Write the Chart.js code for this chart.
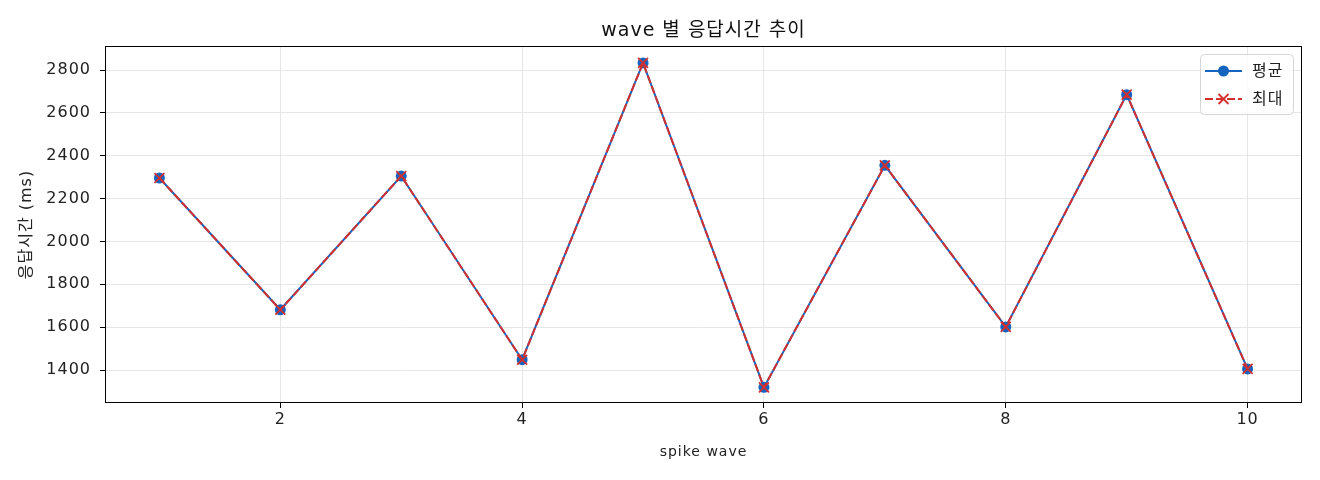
<!DOCTYPE html>
<html>
<head>
<meta charset="utf-8">
<script src="https://cdn.jsdelivr.net/npm/chart.js@4"></script>
<style>
  html, body { margin: 0; padding: 0; background: #fff; }
  #wrap { width: 1320px; height: 480px; }
</style>
</head>
<body>
<div id="wrap"><canvas id="chart" width="1320" height="480"></canvas></div>
<script>
// values
const waves = [1, 2, 3, 4, 5, 6, 7, 8, 9, 10];
const avgMs = [2296, 1681, 2305, 1448, 2833, 1319, 2355, 1601, 2685, 1405];
const maxMs = [2296, 1681, 2305, 1448, 2833, 1319, 2355, 1601, 2685, 1405];
const xTicks = [2, 4, 6, 8, 10];
const yTicks = [1400, 1600, 1800, 2000, 2200, 2400, 2600, 2800];

const FONT = "'DejaVu Sans', 'Noto Sans CJK KR', sans-serif";
const BLUE = '#1565c0';
const RED = '#d32f2f';
const SPACING = '1px';

// wider text like the reference font
const spacingPlugin = {
  id: 'spacing',
  beforeLayout(chart) { chart.ctx.letterSpacing = SPACING; },
  beforeDraw(chart) { chart.ctx.letterSpacing = SPACING; }
};

// box around the plot + legend inside top-right
const framePlugin = {
  id: 'frame',
  afterDraw(chart) {
    const ctx = chart.ctx;
    const a = chart.chartArea;
    ctx.save();
    ctx.strokeStyle = '#000';
    ctx.lineWidth = 1;
    ctx.strokeRect(Math.round(a.left) + 0.5, Math.round(a.top) + 0.5,
      Math.round(a.right - a.left) - 1, Math.round(a.bottom - a.top) - 1);

    // legend
    const bx = 1200, by = 54, bw = 93, bh = 60;
    ctx.beginPath();
    ctx.roundRect(bx + 0.5, by + 0.5, bw, bh, 4);
    ctx.fillStyle = 'rgba(255,255,255,0.8)';
    ctx.fill();
    ctx.strokeStyle = '#d6d6d6';
    ctx.stroke();

    chart.data.datasets.forEach(function (ds, i) {
      const y = 71 + i * 28;
      ctx.save();
      ctx.strokeStyle = ds.borderColor;
      ctx.lineWidth = 2;
      ctx.setLineDash(ds.borderDash || []);
      ctx.beginPath();
      ctx.moveTo(1205, y);
      ctx.lineTo(1242, y);
      ctx.stroke();
      ctx.restore();
      if (ds.pointStyle === 'circle') {
        ctx.beginPath();
        ctx.arc(1223.5, y, 5.5, 0, Math.PI * 2);
        ctx.fillStyle = ds.pointBackgroundColor;
        ctx.fill();
      } else {
        ctx.strokeStyle = ds.pointBorderColor;
        ctx.lineWidth = 1.8;
        ctx.beginPath();
        ctx.moveTo(1218.5, y - 5); ctx.lineTo(1228.5, y + 5);
        ctx.moveTo(1228.5, y - 5); ctx.lineTo(1218.5, y + 5);
        ctx.stroke();
      }
      ctx.fillStyle = '#222';
      ctx.font = '16px ' + FONT;
      ctx.textBaseline = 'middle';
      ctx.textAlign = 'left';
      ctx.fillText(ds.label, 1252, y + 1);
    });
    ctx.restore();
  }
};

new Chart(document.getElementById('chart'), {
  type: 'line',
  data: {
    labels: waves,
    datasets: [
      {
        label: '평균',
        data: waves.map((w, i) => ({ x: w, y: avgMs[i] })),
        borderColor: BLUE,
        backgroundColor: BLUE,
        borderWidth: 2,
        pointStyle: 'circle',
        pointRadius: 5.5,
        pointBackgroundColor: BLUE,
        pointBorderColor: BLUE,
        pointBorderWidth: 0,
        tension: 0,
        order: 1
      },
      {
        label: '최대',
        data: waves.map((w, i) => ({ x: w, y: maxMs[i] })),
        borderColor: RED,
        backgroundColor: RED,
        borderWidth: 2,
        borderDash: [8, 3],
        pointStyle: 'crossRot',
        pointRadius: 7,
        pointBorderColor: RED,
        pointBackgroundColor: RED,
        pointBorderWidth: 1.8,
        tension: 0,
        order: 0
      }
    ]
  },
  options: {
    responsive: false,
    animation: false,
    devicePixelRatio: 1,
    layout: { padding: { left: 0, right: 18, top: 0, bottom: 0 } },
    plugins: {
      legend: { display: false },
      tooltip: { enabled: false },
      title: { display: false }
    },
    scales: {
      // top axis only carries the chart title, centred over the plot
      top: {
        type: 'linear',
        position: 'top',
        min: 0.55,
        max: 10.45,
        afterFit(scale) { scale.height = 46; },
        grid: { display: false },
        border: { display: false },
        ticks: { display: false },
        title: {
          display: true,
          text: 'wave 별 응답시간 추이',
          color: '#111',
          font: { family: FONT, size: 19 },
          padding: { top: 20, bottom: 0 }
        }
      },
      x: {
        type: 'linear',
        min: 0.55,
        max: 10.45,
        afterBuildTicks(scale) { scale.ticks = xTicks.map(v => ({ value: v })); },
        afterFit(scale) { scale.height = 77; },
        grid: { color: '#e6e6e6', tickColor: '#000', tickLength: 5, drawTicks: true },
        border: { display: false },
        ticks: {
          color: '#222', font: { family: FONT, size: 16 }, padding: 2, maxRotation: 0,
          callback: v => String(v)
        },
        title: {
          display: true,
          text: 'spike wave',
          color: '#222',
          font: { family: FONT, size: 14 },
          padding: { top: 0, bottom: 19 }
        }
      },
      y: {
        type: 'linear',
        min: 1246,
        max: 2912,
        afterBuildTicks(scale) { scale.ticks = yTicks.map(v => ({ value: v })); },
        afterFit(scale) { scale.width = 105; },
        grid: { color: '#e6e6e6', tickColor: '#000', tickLength: 5, drawTicks: true },
        border: { display: false },
        ticks: {
          color: '#222', font: { family: FONT, size: 16 }, padding: 9,
          callback: v => String(v)
        },
        title: {
          display: true,
          text: '응답시간 (ms)',
          color: '#222',
          font: { family: FONT, size: 16 },
          padding: { top: 17, bottom: 0 }
        }
      }
    }
  },
  plugins: [spacingPlugin, framePlugin]
});
</script>
</body>
</html>
